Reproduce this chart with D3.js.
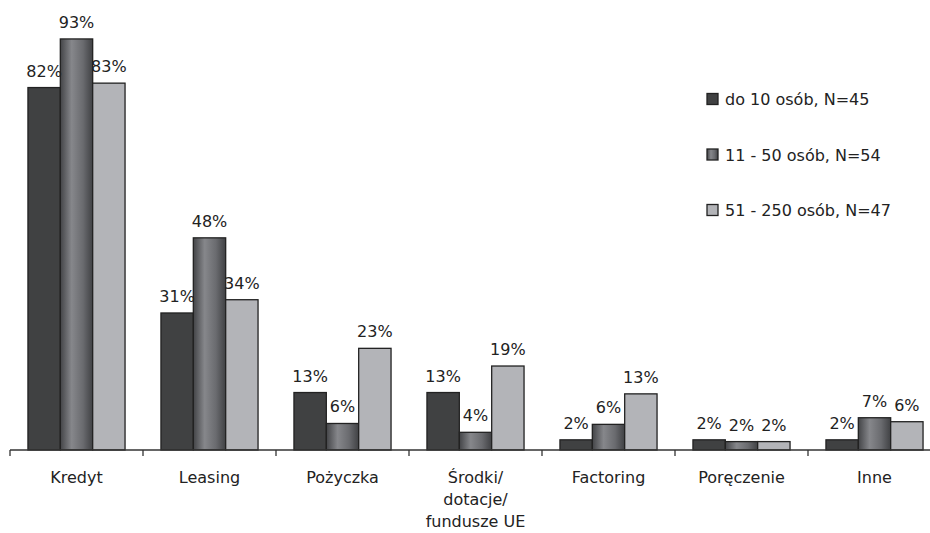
<!DOCTYPE html>
<html>
<head>
<meta charset="utf-8">
<script src="https://cdn.jsdelivr.net/npm/d3@7"></script>
<style>
  body { margin: 0; background: #fff; }
  svg text { font-family: "DejaVu Sans", Verdana, sans-serif; fill: #222; }
</style>
</head>
<body>
<div id="chart"></div>
<script>
var categories = ["Kredyt", "Leasing", "Pożyczka", "Środki/\ndotacje/\nfundusze UE", "Factoring", "Poręczenie", "Inne"];
var seriesNames = ["do 10 osób, N=45", "11 - 50 osób, N=54", "51 - 250 osób, N=47"];
var small = [82, 31, 13, 13, 2.3, 2.3, 2.3];
var medium = [93, 48, 6, 4, 5.8, 1.9, 7.3];
var large = [83, 34, 23, 19, 12.7, 1.9, 6.4];

var width = 930, height = 533;
var base = 450, top100 = 8;

var svg = d3.select("#chart").append("svg")
    .attr("width", width)
    .attr("height", height);

var defs = svg.append("defs");
var grad = defs.append("linearGradient").attr("id", "midGrad")
    .attr("x1", "0%").attr("x2", "100%").attr("y1", "0%").attr("y2", "0%");
grad.append("stop").attr("offset", "0%").attr("stop-color", "#434447");
grad.append("stop").attr("offset", "35%").attr("stop-color", "#86878b");
grad.append("stop").attr("offset", "70%").attr("stop-color", "#6a6b6f");
grad.append("stop").attr("offset", "100%").attr("stop-color", "#404144");

var fills = ["#404142", "url(#midGrad)", "#b3b4b8"];

var x0 = d3.scaleBand().domain(categories).range([10, 10 + 7 * 133])
    .paddingInner(0.27).paddingOuter(0.135);
var x1 = d3.scaleBand().domain([0, 1, 2]).range([0, x0.bandwidth()]);
var y = d3.scaleLinear().domain([0, 100]).range([base, top100]);

var rows = categories.map(function(c, i) {
  return {cat: c, vals: [small[i], medium[i], large[i]]};
});

var groups = svg.selectAll("g.grp")
    .data(rows)
    .enter().append("g")
    .attr("class", "grp")
    .attr("transform", function(d) { return "translate(" + x0(d.cat) + ",0)"; });

groups.selectAll("rect")
    .data(function(d) { return d.vals; })
    .enter().append("rect")
    .attr("x", function(d, i) { return x1(i); })
    .attr("y", function(d) { return y(d); })
    .attr("width", x1.bandwidth())
    .attr("height", function(d) { return base - y(d); })
    .attr("fill", function(d, i) { return fills[i]; })
    .attr("stroke", "#222")
    .attr("stroke-width", 1.3);

groups.selectAll("text.val")
    .data(function(d) { return d.vals; })
    .enter().append("text")
    .attr("class", "val")
    .attr("x", function(d, i) { return x1(i) + x1.bandwidth() / 2; })
    .attr("y", function(d) { return y(d) - 11; })
    .attr("text-anchor", "middle")
    .style("font-size", "16px")
    .text(function(d) { return Math.round(d) + "%"; });

// axis
var ax = svg.append("g");
ax.append("line")
    .attr("x1", 10).attr("x2", width)
    .attr("y1", base).attr("y2", base)
    .attr("stroke", "#333").attr("stroke-width", 1.3);
ax.selectAll("line.tick")
    .data(d3.range(8))
    .enter().append("line")
    .attr("class", "tick")
    .attr("x1", function(d) { return 10 + d * x0.step(); })
    .attr("x2", function(d) { return 10 + d * x0.step(); })
    .attr("y1", base).attr("y2", base + 6)
    .attr("stroke", "#333").attr("stroke-width", 1.3);

var lab = ax.selectAll("text.cat")
    .data(categories)
    .enter().append("text")
    .attr("class", "cat")
    .attr("text-anchor", "middle")
    .style("font-size", "16px")
    .attr("transform", function(d) { return "translate(" + (x0(d) + x0.bandwidth() / 2) + "," + 483 + ")"; });
lab.selectAll("tspan")
    .data(function(d) { return d.split("\n"); })
    .enter().append("tspan")
    .attr("x", 0)
    .attr("y", function(d, i) { return i * 22; })
    .text(function(d) { return d; });

// legend
var leg = svg.selectAll("g.leg")
    .data(seriesNames)
    .enter().append("g")
    .attr("class", "leg")
    .attr("transform", function(d, i) { return "translate(707," + (99 + i * 55.5) + ")"; });
leg.append("rect")
    .attr("x", 0).attr("y", -5.5)
    .attr("width", 11).attr("height", 11)
    .attr("fill", function(d, i) { return fills[i]; })
    .attr("stroke", "#222").attr("stroke-width", 1.3);
leg.append("text")
    .attr("x", 18).attr("y", 6)
    .style("font-size", "16px")
    .text(function(d) { return d; });
</script>
</body>
</html>
